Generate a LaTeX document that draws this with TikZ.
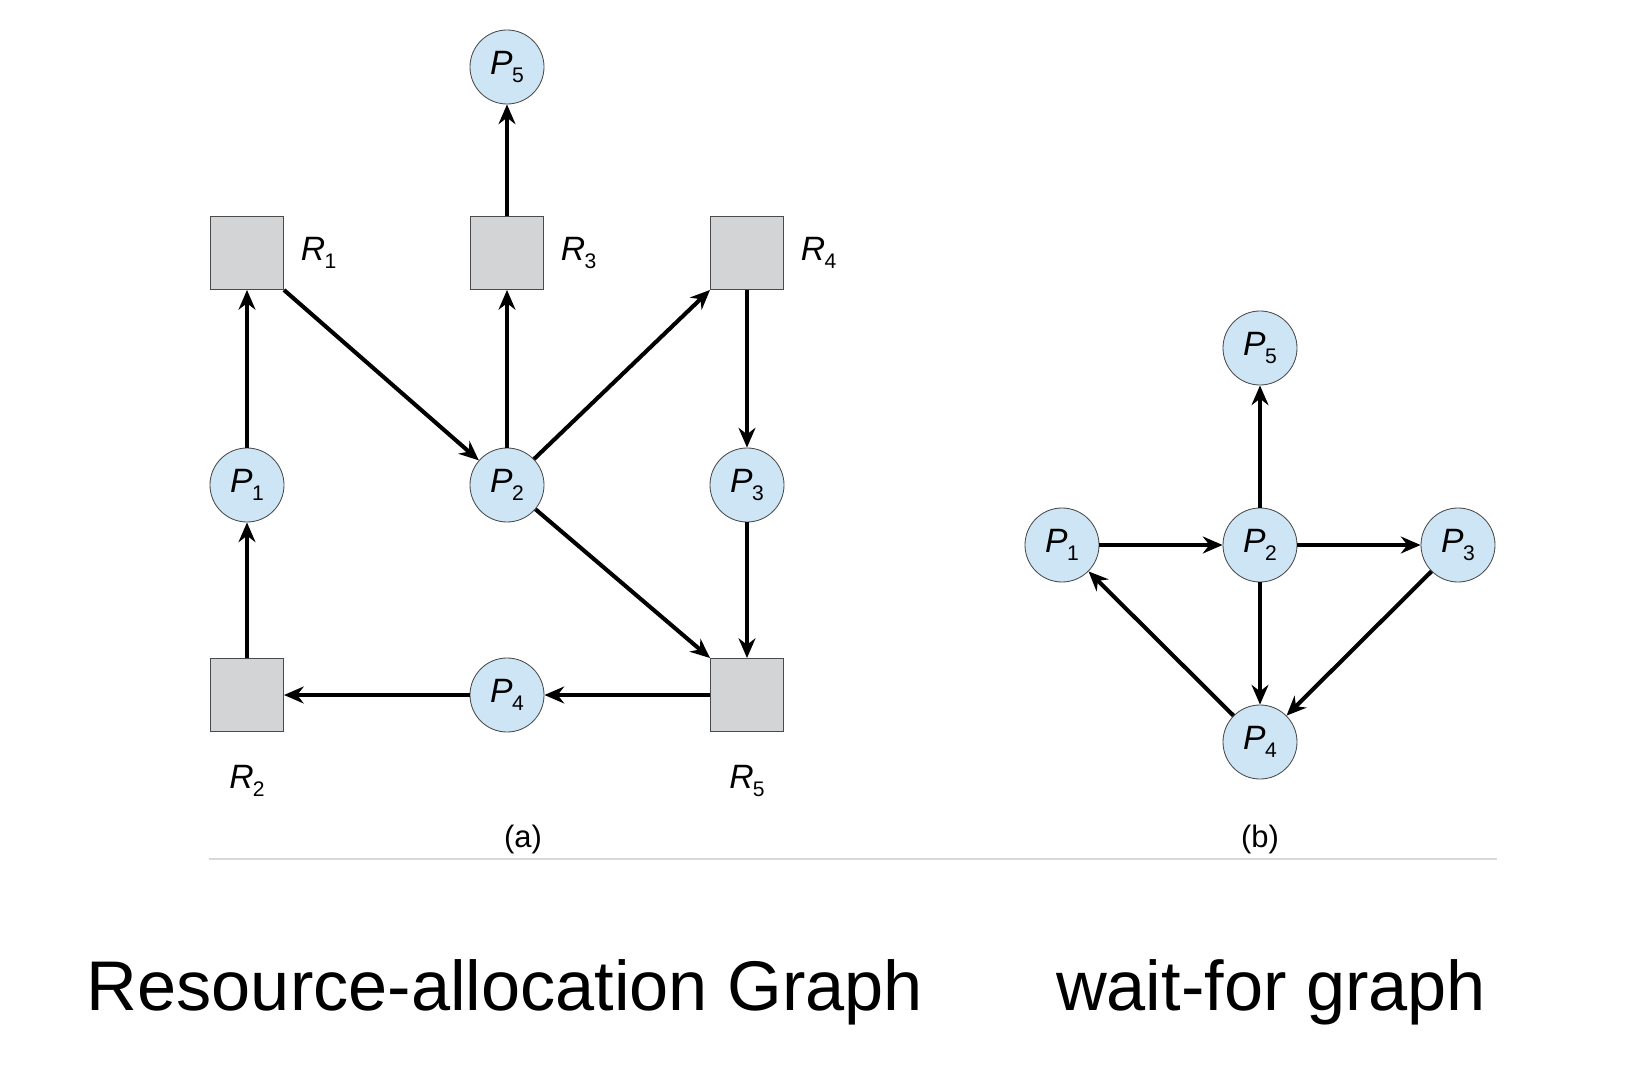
\documentclass[tikz,border=0pt]{standalone}
\usepackage{fontspec}
\setmainfont{Liberation Sans}
\usetikzlibrary{arrows.meta, positioning, calc}
\definecolor{procblue}{HTML}{CDE5F5}
\definecolor{resgray}{HTML}{D2D4D6}
\definecolor{edgegray}{HTML}{4A4A4A}
\definecolor{rulegray}{HTML}{D8D8D8}
\newcommand{\plab}[2]{\textit{#1}\kern-0.02em\raisebox{-0.45ex}{\fontsize{15}{15}\selectfont #2}}

\begin{document}
\begin{tikzpicture}[
  x=0.025cm, y=-0.025cm,
  proc/.style={
    circle, draw=edgegray, line width=0.6pt, fill=procblue,
    minimum size=1.85cm, inner sep=0pt,
    font=\fontsize{24}{24}\selectfont
  },
  res/.style={
    rectangle, draw=edgegray, line width=0.8pt, fill=resgray,
    minimum size=1.82cm, inner sep=0pt
  },
  lbl/.style={font=\fontsize{24}{24}\selectfont},
  arr/.style={-{Stealth[length=14pt, width=12pt]}, line width=2.9pt}
]
  \useasboundingbox (0,0) rectangle (1639,1069);

  % (a) resource-allocation graph
  \node[proc] (a5) at (507,67) {\plab{P}{5}};
  \node[res] (r1) at (247,253) {};
  \node[res] (r3) at (507,253) {};
  \node[res] (r4) at (747,253) {};
  \node[proc] (a1) at (247,485) {\plab{P}{1}};
  \node[proc] (a2) at (507,485) {\plab{P}{2}};
  \node[proc] (a3) at (747,485) {\plab{P}{3}};
  \node[res] (r2) at (247,695) {};
  \node[proc] (a4) at (507,695) {\plab{P}{4}};
  \node[res] (r5) at (747,695) {};

  \node[lbl, right=0.3cm of r1] {\plab{R}{1}};
  \node[lbl, right=0.3cm of r3] {\plab{R}{3}};
  \node[lbl, right=0.3cm of r4] {\plab{R}{4}};
  \node[lbl, below=0.7cm of r2] {\plab{R}{2}};
  \node[lbl, below=0.7cm of r5] {\plab{R}{5}};

  \draw[arr] (a1) -- (r1);
  \draw[arr] (r1.south east) -- (a2);
  \draw[arr] (a2) -- (r3);
  \draw[arr] (r3) -- (a5);
  \draw[arr] (a2) -- (r4.south west);
  \draw[arr] (r4) -- (a3);
  \draw[arr] (a3) -- (r5);
  \draw[arr] (a2) -- (r5.north west);
  \draw[arr] (r5) -- (a4);
  \draw[arr] (a4) -- (r2);
  \draw[arr] (r2) -- (a1);

  % (b) wait-for graph
  \node[proc] (b5) at (1260,348) {\plab{P}{5}};
  \node[proc] (b1) at (1062,545) {\plab{P}{1}};
  \node[proc] (b2) at (1260,545) {\plab{P}{2}};
  \node[proc] (b3) at (1458,545) {\plab{P}{3}};
  \node[proc] (b4) at (1260,742) {\plab{P}{4}};

  \draw[arr] (b1) -- (b2);
  \draw[arr] (b2) -- (b3);
  \draw[arr] (b2) -- (b5);
  \draw[arr] (b2) -- (b4);
  \draw[arr] (b3) -- (b4);
  \draw[arr] (b4) -- (b1);

  % captions
  \node[font=\fontsize{22}{22}\selectfont] (capa) at (523,839) {(a)};
  \node[font=\fontsize{22}{22}\selectfont] (capb) at (1260,839) {(b)};
  \draw[rulegray, line width=1pt] (209,859) -- (1497,859);

  \node[font=\fontsize{50}{60}\selectfont, anchor=base] (ttla) at (505,1010) {Resource-allocation Graph};
  \node[font=\fontsize{50}{60}\selectfont, anchor=base] (ttlb) at (1271,1010) {wait-for graph};
\end{tikzpicture}
\end{document}
